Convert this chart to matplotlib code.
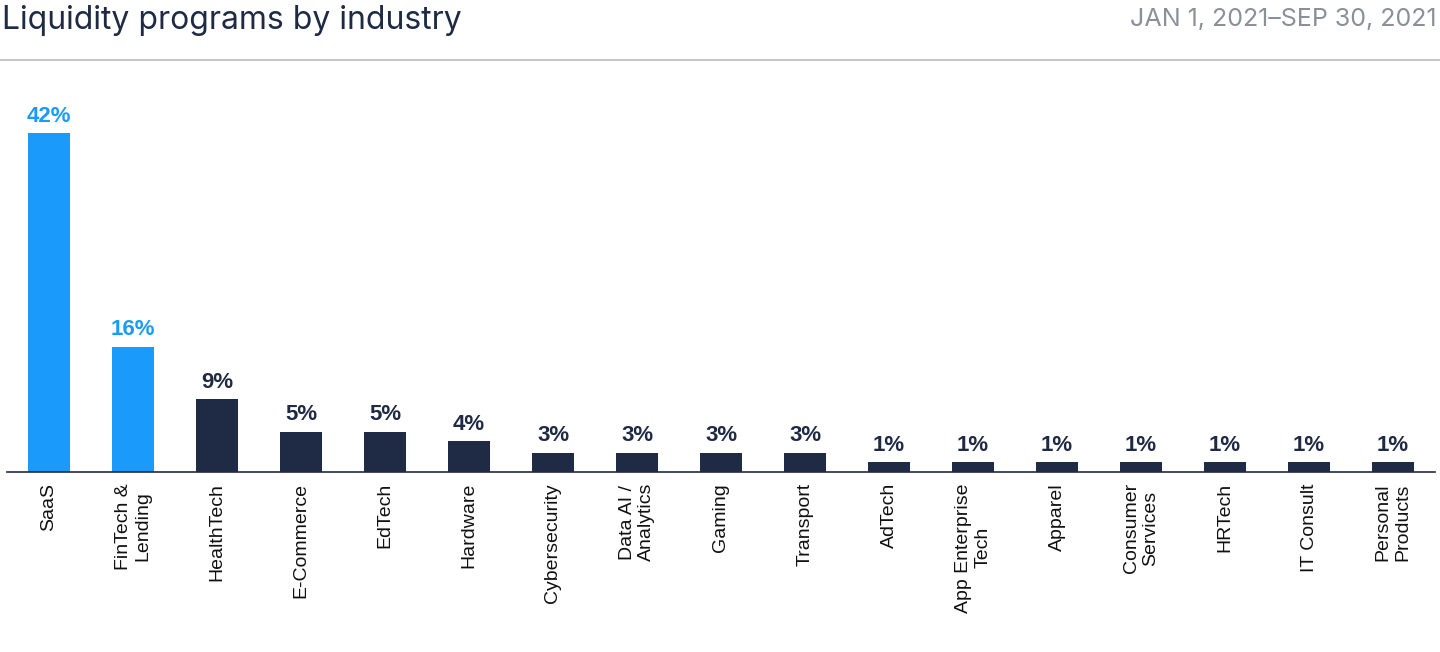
import matplotlib
matplotlib.use("Agg")
import matplotlib.pyplot as plt

categories = ["SaaS", "FinTech &\nLending", "HealthTech", "E-Commerce", "EdTech", "Hardware",
              "Cybersecurity", "Data AI /\nAnalytics", "Gaming", "Transport", "AdTech",
              "App Enterprise\nTech", "Apparel", "Consumer\nServices", "HRTech", "IT Consult",
              "Personal\nProducts"]
heights = [42, 15.5, 9, 5, 5, 3.8, 2.4, 2.4, 2.4, 2.4, 1.2, 1.2, 1.2, 1.2, 1.2, 1.2, 1.2]
labels = ["42%", "16%", "9%", "5%", "5%", "4%", "3%", "3%", "3%", "3%",
          "1%", "1%", "1%", "1%", "1%", "1%", "1%"]

BLUE = "#1a9bfc"
DARK = "#1f2a44"
colors = [BLUE, BLUE] + [DARK] * (len(categories) - 2)

plt.rcParams["font.family"] = "Inter"
fig = plt.figure(figsize=(14.4, 6.52), dpi=100)
ax = fig.add_axes([7/1440, 180/652, 1428/1440, 372/652])
x = list(range(len(categories)))
ax.bar(x, heights, width=0.49, color=colors)
for xi, h, lab, c in zip(x, heights, labels, colors):
    ax.text(xi, h + 0.8, lab, ha="center", va="bottom", fontsize=16, fontweight="bold", color=c,
            family="Liberation Sans")
ax.set_xlim(-0.5, 16.5)
ax.set_ylim(0, 46.1)
ax.set_yticks([])
ax.set_xticks(x)
ax.set_xticklabels(categories, rotation=90, fontsize=14, color="#111111", ha="center", va="top",
                   multialignment="center", family="Liberation Sans")
ax.tick_params(axis="x", length=0, pad=8)
for s in ["top", "right", "left"]:
    ax.spines[s].set_visible(False)
ax.spines["bottom"].set_color(DARK)
ax.spines["bottom"].set_linewidth(1.2)

fig.text(2/1440, 1 - 20/652, "Liquidity programs by industry", fontsize=23, color="#1f2a44",
         ha="left", va="center")
fig.text(1436/1440, 1 - 20/652, "JAN 1, 2021–SEP 30, 2021", fontsize=18, color="#8a8f98",
         ha="right", va="center")
fig.add_artist(plt.Line2D([0, 1], [1 - 60/652, 1 - 60/652], color="#bbbbbb", linewidth=1.2))
fig.savefig("out.png", dpi=100)
